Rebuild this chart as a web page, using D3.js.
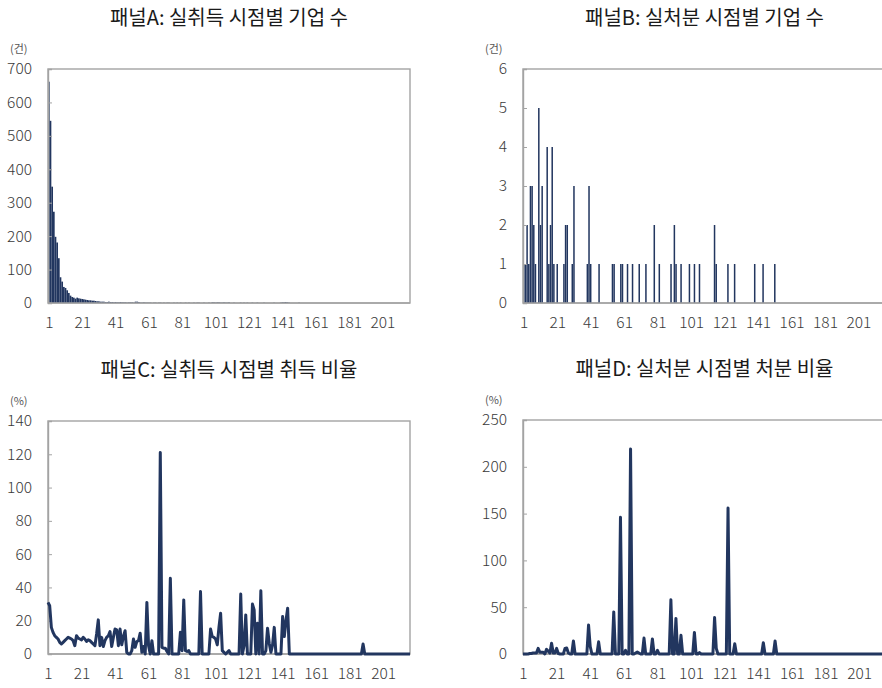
<!DOCTYPE html>
<html>
<head>
<meta charset="utf-8">
<script src="https://cdn.jsdelivr.net/npm/d3@7"></script>
<style>
	body { margin: 0; background: #fff; }
	svg { display: block; font-family: "Noto Sans CJK KR", "Noto Sans", sans-serif; }
</style>
</head>
<body>
<div id="chart"></div>
<script>
// 시점 (1 ~ 217)
const categories = d3.range(1, 218);
const xTickLabels = [1, 21, 41, 61, 81, 101, 121, 141, 161, 181, 201];

// 패널A: 실취득 시점별 기업 수 (건)
const acqCount = [
	662, 545, 348, 273, 198, 181, 134, 77, 64, 48,
	45, 38, 30, 22, 18, 16, 13, 16, 14, 13,
	12, 11, 10, 9, 8, 8, 7, 7, 6, 5,
	5, 4, 4, 4, 3, 3, 4, 3, 3, 2,
	3, 2, 2, 3, 2, 2, 2, 1, 2, 2,
	2, 1, 4, 4, 3, 1, 1, 2, 1, 1,
	1, 1, 0, 1, 1, 0, 1, 1, 0, 1,
	0, 1, 1, 0, 0, 1, 0, 1, 0, 1,
	0, 0, 1, 0, 1, 0, 0, 1, 0, 1,
	1, 0, 0, 1, 0, 0, 1, 0, 2, 2,
	1, 2, 2, 1, 1, 2, 1, 1, 2, 0,
	0, 1, 0, 0, 0, 1, 0, 1, 0, 1,
	0, 0, 1, 0, 0, 1, 0, 0, 0, 1,
	0, 0, 0, 0, 0, 1, 0, 0, 0, 1,
	2, 2, 3, 2, 1, 0, 0, 0, 0, 0,
	1, 0, 0, 0, 0, 0, 0, 0, 0, 0,
	0, 0, 0, 0, 0, 0, 0, 0, 0, 0,
	0, 0, 0, 0, 0, 0, 0, 0, 0, 0,
	0, 0, 0, 0, 0, 0, 0, 0, 0, 0,
	0, 0, 0, 0, 0, 0, 0, 0, 0, 0,
	0, 0, 0, 0, 0, 0, 0, 0, 0, 0,
	0, 0, 0, 0, 0, 0, 0
];

// 패널B: 실처분 시점별 기업 수 (건)
const dispCount = [
	1, 1, 2, 1, 3, 3, 2, 1, 0, 5,
	2, 3, 0, 0, 4, 1, 2, 4, 1, 0,
	1, 0, 0, 0, 1, 2, 2, 0, 0, 1,
	3, 0, 0, 0, 0, 0, 0, 0, 1, 3,
	1, 0, 0, 0, 0, 1, 0, 0, 0, 0,
	0, 0, 0, 1, 1, 0, 0, 0, 1, 1,
	0, 0, 1, 0, 0, 1, 0, 0, 0, 1,
	0, 0, 0, 1, 0, 0, 0, 0, 2, 0,
	0, 1, 0, 0, 0, 0, 0, 0, 1, 0,
	2, 1, 0, 0, 1, 0, 0, 0, 0, 1,
	0, 0, 1, 0, 0, 1, 0, 0, 0, 0,
	0, 0, 0, 0, 2, 1, 0, 0, 0, 0,
	0, 0, 1, 0, 0, 0, 1, 0, 0, 0,
	0, 0, 0, 0, 0, 0, 0, 0, 1, 0,
	0, 0, 0, 1, 0, 0, 0, 0, 0, 0,
	1, 0, 0, 0, 0, 0, 0, 0, 0, 0,
	0, 0, 0, 0, 0, 0, 0, 0, 0, 0,
	0, 0, 0, 0, 0, 0, 0, 0, 0, 0,
	0, 0, 0, 0, 0, 0, 0, 0, 0, 0,
	0, 0, 0, 0, 0, 0, 0, 0, 0, 0,
	0, 0, 0, 0, 0, 0, 0, 0, 0, 0,
	0, 0, 0, 0, 0, 0, 0
];

// 패널C: 실취득 시점별 취득 비율 (%)
const acqRatio = [
	31, 29, 16, 13, 11, 10, 9, 7, 6, 7,
	8, 9, 10, 9.5, 9, 8, 5, 11, 9.5, 9,
	8.5, 10, 9, 7.5, 8.5, 8, 7, 6, 5, 12,
	20.5, 5, 10, 4.5, 8, 10, 11, 13.5, 4.5, 10,
	15, 14.5, 5, 15, 5.5, 10.5, 14, 1, 0, 0,
	2, 9, 4, 7.5, 8, 12.5, 1, 4.5, 0, 31,
	5, 0, 8, 0, 0, 0, 0, 121, 4, 3.5,
	3.5, 1.5, 0, 45.5, 0, 0, 0, 0, 0, 13,
	2, 32.5, 2, 1.5, 2, 0, 0, 0, 0, 0,
	0, 37.5, 0, 0, 0, 0, 0, 15, 10.5, 10,
	9, 5.5, 16, 24.5, 2, 1, 0, 1, 2, 0,
	0, 0, 0, 0, 0, 36, 0, 5, 23.5, 0,
	0, 0, 30, 26.5, 0, 18.5, 0, 38, 0, 0,
	2, 15.5, 6.5, 1, 5.5, 16, 0, 0, 0, 0,
	22.5, 10.5, 20, 27.5, 0, 0, 0, 0, 0, 0,
	0, 0, 0, 0, 0, 0, 0, 0, 0, 0,
	0, 0, 0, 0, 0, 0, 0, 0, 0, 0,
	0, 0, 0, 0, 0, 0, 0, 0, 0, 0,
	0, 0, 0, 0, 0, 0, 0, 0, 6, 0,
	0, 0, 0, 0, 0, 0, 0, 0, 0, 0,
	0, 0, 0, 0, 0, 0, 0, 0, 0, 0,
	0, 0, 0, 0, 0, 0, 0
];

// 패널D: 실처분 시점별 처분 비율 (%)
const dispRatio = [
	0, 0, 0, 0, 0.5, 0.5, 1, 1, 1, 6,
	2, 2, 2, 0, 5, 3, 1, 11.5, 1, 1,
	6, 0.5, 0, 0, 0, 6, 6.5, 1, 0, 0,
	14, 0, 0, 0, 0, 0, 0, 0, 0, 31,
	8, 0, 0, 0, 0, 13, 0, 0, 0, 0,
	0, 0, 0, 0, 45, 0, 0, 0, 146, 0,
	0, 4, 0, 0, 219, 0, 0, 1, 2, 1,
	0, 0, 17, 0, 0, 0, 0, 16, 0, 0,
	4, 0, 0, 0, 0, 0, 0, 0, 58, 0,
	0, 38, 0, 0, 20, 0, 0, 0, 0, 0,
	0, 0, 23, 0, 0, 1.5, 0, 0, 0, 0,
	0, 0, 0, 0, 39, 6, 0, 0, 0, 0,
	0, 0, 156, 0, 0, 0, 11, 0, 0, 0,
	0, 0, 0, 0, 0, 0, 0, 0, 0, 0,
	0, 0, 0, 12, 0, 0, 0, 0, 0, 0,
	14, 0, 0, 0, 0, 0, 0, 0, 0, 0,
	0, 0, 0, 0, 0, 0, 0, 0, 0, 0,
	0, 0, 0, 0, 0, 0, 0, 0, 0, 0,
	0, 0, 0, 0, 0, 0, 0, 0, 0, 0,
	0, 0, 0, 0, 0, 0, 0, 0, 0, 0,
	0, 0, 0, 0, 0, 0, 0, 0, 0, 0,
	0, 0, 0, 0, 0, 0, 0
];

const navy = "#22365f";
const boxColor = "#a3a3a3";
const labelColor = "#3a3a3a";
const fontFamily = '"Noto Sans CJK KR", "Noto Sans", sans-serif';

const svg = d3.select("#chart").append("svg").attr("width", 882).attr("height", 688);

const styleTicks = (a) =>
	a
		.attr("font-family", fontFamily)
		.selectAll("text")
		.attr("fill", labelColor)
		.style("font-size", "15.5px")
		.style("font-weight", 300);

const drawPanel = (p) => {
	const g = svg.append("g");
	const y = d3.scaleLinear().domain([0, p.yMax]).range([p.bottom, p.top]);

	// title + unit
	g.append("text")
		.attr("x", (p.left + p.right) / 2)
		.attr("y", p.top - 44)
		.attr("text-anchor", "middle")
		.attr("fill", "#1a1a1a")
		.style("font-size", "20px")
		.text(p.title);
	g.append("text")
		.attr("x", p.left - 38)
		.attr("y", p.top - 16)
		.attr("fill", "#555")
		.style("font-size", "11px")
		.text(p.unit);

	// plot box
	g.append("rect")
		.attr("x", p.left)
		.attr("y", p.top)
		.attr("width", p.right - p.left)
		.attr("height", p.bottom - p.top)
		.attr("fill", "none")
		.attr("stroke", boxColor)
		.attr("stroke-width", 1.4);

	let x;
	if (p.type === "bar") {
		x = d3.scaleBand().domain(categories).range([p.left, p.right]).paddingInner(p.pad);
		g.append("g")
			.selectAll("rect")
			.data(p.values)
			.join("rect")
			.attr("x", (d, i) => x(categories[i]))
			.attr("y", (d) => y(d))
			.attr("width", x.bandwidth())
			.attr("height", (d) => p.bottom - y(d))
			.attr("fill", navy);
	} else {
		x = d3.scalePoint().domain(categories).range([p.left, p.right]);
	}

	// y axis
	g.append("g")
		.attr("transform", `translate(${p.left},0)`)
		.call(d3.axisLeft(y).tickValues(p.yTicks).tickFormat(d3.format("d")).tickSize(-4).tickPadding(16))
		.call((a) => a.select(".domain").attr("stroke", boxColor).attr("stroke-width", 1.4))
		.call((a) => a.selectAll(".tick line").attr("stroke", boxColor))
		.call(styleTicks);

	// x axis
	const xPos = p.type === "bar" ? (v) => x(v) + x.bandwidth() / 2 : (v) => x(v);
	const xa = d3.scaleOrdinal().domain(xTickLabels).range(xTickLabels.map(xPos));
	g.append("g")
		.attr("transform", `translate(0,${p.bottom})`)
		.call(d3.axisBottom(xa).tickSize(0).tickPadding(14))
		.call((a) => a.select(".domain").remove())
		.call(styleTicks);
	g.append("line")
		.attr("x1", p.left).attr("x2", p.right)
		.attr("y1", p.bottom).attr("y2", p.bottom)
		.attr("stroke", boxColor).attr("stroke-width", 1.4);

	if (p.type === "line") {
		const line = d3
			.line()
			.x((d, i) => x(categories[i]))
			.y((d) => y(d));
		g.append("path")
			.datum(p.values)
			.attr("d", line)
			.attr("fill", "none")
			.attr("stroke", navy)
			.attr("stroke-width", 3)
			.attr("stroke-linejoin", "round");
	}
};

drawPanel({
	title: "패널A: 실취득 시점별 기업 수", unit: "(건)", type: "bar", pad: 0,
	values: acqCount, yMax: 700, yTicks: [0, 100, 200, 300, 400, 500, 600, 700],
	left: 48, right: 410, top: 69, bottom: 303
});
drawPanel({
	title: "패널B: 실처분 시점별 기업 수", unit: "(건)", type: "bar", pad: 0.1,
	values: dispCount, yMax: 6, yTicks: [0, 1, 2, 3, 4, 5, 6],
	left: 523, right: 886, top: 69, bottom: 303
});
drawPanel({
	title: "패널C: 실취득 시점별 취득 비율", unit: "(%)", type: "line",
	values: acqRatio, yMax: 140, yTicks: [0, 20, 40, 60, 80, 100, 120, 140],
	left: 48, right: 410, top: 421, bottom: 654
});
drawPanel({
	title: "패널D: 실처분 시점별 처분 비율", unit: "(%)", type: "line",
	values: dispRatio, yMax: 250, yTicks: [0, 50, 100, 150, 200, 250],
	left: 523, right: 886, top: 420, bottom: 654
});
</script>
</body>
</html>
